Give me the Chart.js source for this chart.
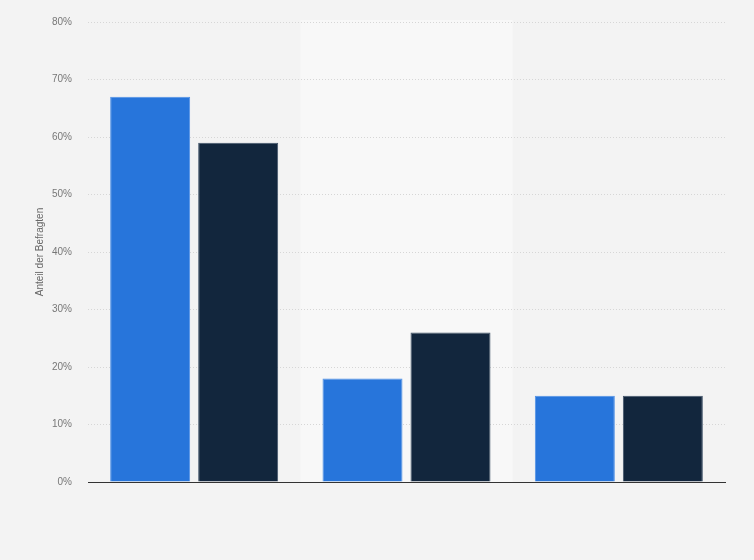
<!DOCTYPE html>
<html>
<head>
<meta charset="utf-8">
<script src="https://cdn.jsdelivr.net/npm/chart.js@4"></script>
<style>
  html, body { margin: 0; padding: 0; background: #f3f3f3; }
  #wrap { width: 754px; height: 560px; }
</style>
</head>
<body>
<div id="wrap"><canvas id="chart"></canvas></div>
<script>
// Datos
const categories = ['A', 'B', 'C'];
const serie1 = [67, 18, 15];
const serie2 = [59, 26, 15];
const yTicks = [0, 10, 20, 30, 40, 50, 60, 70, 80];
const yTitle = 'Anteil der Befragten';

// banda clara detrás de la categoría del medio
const bandPlugin = {
    id: 'band',
    beforeDraw(chart) {
        const { ctx, chartArea, scales } = chart;
        const x = scales.x;
        const w = (chartArea.right - chartArea.left) / categories.length;
        const cx = x.getPixelForValue(1);
        ctx.save();
        ctx.fillStyle = '#f8f8f8';
        ctx.fillRect(cx - w / 2, chartArea.top - 2, w, chartArea.bottom - chartArea.top + 2);
        ctx.restore();
    }
};

new Chart(document.getElementById('chart'), {
    type: 'bar',
    data: {
        labels: categories,
        datasets: [
            {
                data: serie1,
                backgroundColor: '#2775db',
                borderColor: '#4f90e6',
                borderWidth: { top: 1, left: 1, right: 1, bottom: 0 },
            },
            {
                data: serie2,
                backgroundColor: '#12263d',
                borderColor: '#42546a',
                borderWidth: { top: 1, left: 1, right: 1, bottom: 0 },
            }
        ]
    },
    plugins: [bandPlugin],
    options: {
        responsive: true,
        maintainAspectRatio: false,
        animation: false,
        layout: { padding: { top: 19, right: 29, bottom: 70, left: 0 } },
        datasets: { bar: { categoryPercentage: 0.829, barPercentage: 0.909 } },
        plugins: { legend: { display: false }, tooltip: { enabled: false } },
        scales: {
            x: {
                ticks: { display: false },
                grid: { display: false },
                border: { display: true, color: '#333', width: 1 }
            },
            y: {
                min: 0,
                max: 80,
                afterFit: s => { s.width = 88; },
                afterBuildTicks: s => { s.ticks = yTicks.map(v => ({ value: v })); },
                ticks: {
                    padding: 16,
                    color: '#777',
                    font: { family: 'Liberation Sans', size: 10 },
                    callback: v => v + '%'
                },
                grid: { color: '#d6d6d6', drawTicks: false },
                border: { display: false, dash: [1, 2] },
                title: {
                    display: true,
                    text: yTitle,
                    color: '#666',
                    font: { family: 'Liberation Sans', size: 10 },
                    padding: { top: 34, bottom: 0 }
                }
            }
        }
    }
});
</script>
</body>
</html>
